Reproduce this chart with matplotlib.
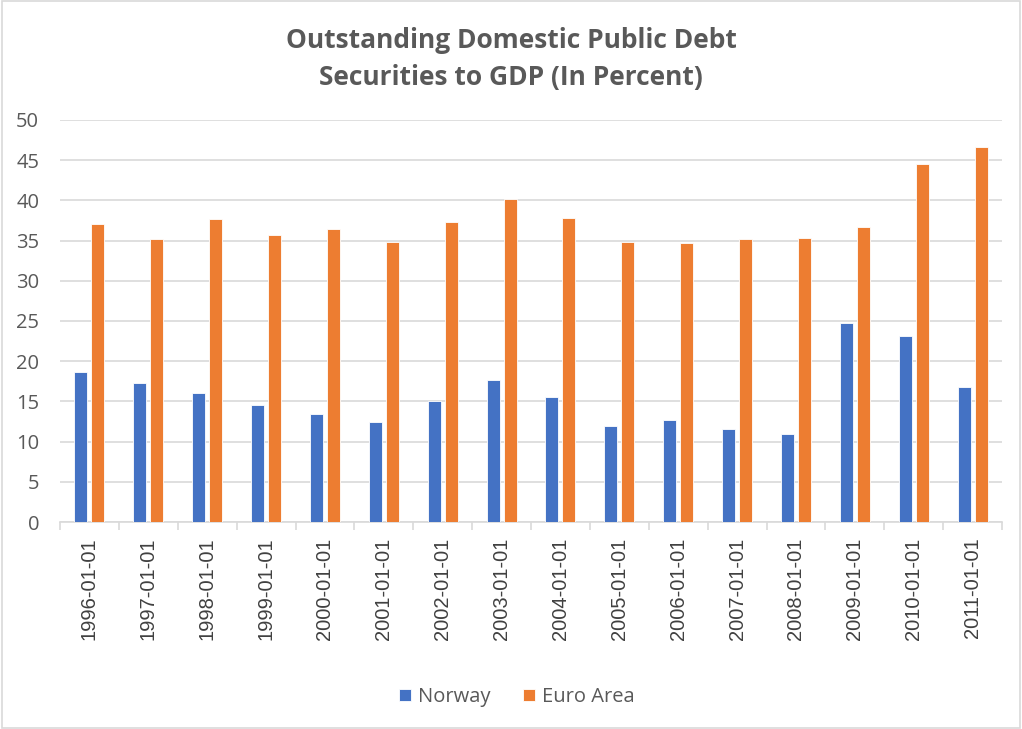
import numpy as np
import matplotlib.pyplot as plt
from matplotlib.patches import Rectangle

plt.rcParams['font.family'] = ['Open Sans', 'DejaVu Sans']

dates = ['1996-01-01', '1997-01-01', '1998-01-01', '1999-01-01',
         '2000-01-01', '2001-01-01', '2002-01-01', '2003-01-01',
         '2004-01-01', '2005-01-01', '2006-01-01', '2007-01-01',
         '2008-01-01', '2009-01-01', '2010-01-01', '2011-01-01']
norway = [18.7, 17.3, 16.1, 14.5, 13.4, 12.4, 15.0, 17.7,
          15.6, 11.9, 12.7, 11.6, 11.0, 24.7, 23.1, 16.8]
euro_area = [37.1, 35.2, 37.7, 35.7, 36.5, 34.8, 37.3, 40.2,
             37.8, 34.8, 34.7, 35.2, 35.3, 36.7, 44.5, 46.6]

blue = '#4472c4'
orange = '#ed7d31'
text_gray = '#595959'
grid_gray = '#d9d9d9'

fig = plt.figure(figsize=(10.22, 7.29), dpi=100)
ax = fig.add_axes([60 / 1022, 1 - 522 / 729, 942 / 1022, 402 / 729])

x = np.arange(len(dates))
w = 0.22
off = 0.144
ax.bar(x - off, norway, w, color=blue, edgecolor='white', linewidth=0.6,
       label='Norway', zorder=3)
ax.bar(x + off, euro_area, w, color=orange, edgecolor='white', linewidth=0.6,
       label='Euro Area', zorder=3)

ax.set_xlim(-0.5, len(dates) - 0.5)
ax.set_ylim(0, 50)
ax.set_yticks(np.arange(0, 51, 5))
ax.grid(axis='y', color=grid_gray, linewidth=1.2, zorder=0)
ax.set_axisbelow(True)

for s in ['top', 'right', 'left']:
    ax.spines[s].set_visible(False)
ax.spines['bottom'].set_color(grid_gray)
ax.spines['bottom'].set_linewidth(1.2)

# category labels centred, tick marks at the boundaries
ax.set_xticks(x)
ax.set_xticklabels(dates, rotation=90, fontsize=14.5, color='#404040',
                   family=['Liberation Sans', 'DejaVu Sans'])
ax.tick_params(axis='x', length=0, pad=11)
ax.set_xticks(np.arange(-0.5, len(dates)), minor=True)
ax.tick_params(axis='x', which='minor', length=6, color=grid_gray, width=1.2)
ax.tick_params(axis='y', length=0, labelsize=14.5, labelcolor=text_gray, pad=15)

fig.text(0.5, 1 - 59 / 729, 'Outstanding Domestic Public Debt\nSecurities to GDP (In Percent)',
         ha='center', va='center', fontsize=19, fontweight='bold',
         color=text_gray, linespacing=1.45)

ax.legend(loc='center', bbox_to_anchor=(0.5 - 14 / 942, (522 - 697) / 402), ncol=2,
          frameon=False, fontsize=14.5, labelcolor=text_gray,
          handlelength=0.6, handleheight=0.6, columnspacing=1.6,
          handletextpad=0.35)

fig.patches.append(Rectangle((0.002, 0.002), 0.996, 0.996, transform=fig.transFigure,
                             fill=False, edgecolor=grid_gray, linewidth=1.2))

fig.savefig('out.png', dpi=100)
